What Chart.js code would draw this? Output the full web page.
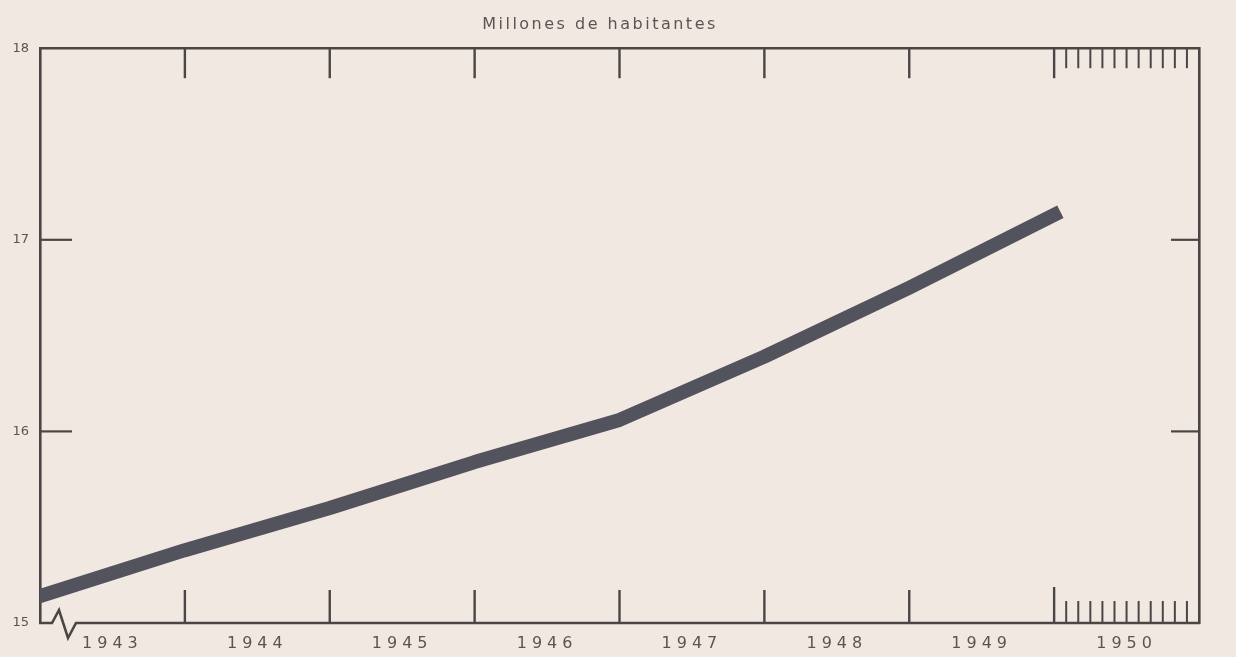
<!DOCTYPE html>
<html>
<head>
<meta charset="utf-8">
<script src="https://cdn.jsdelivr.net/npm/chart.js@4.4.1/dist/chart.umd.min.js"></script>
<style>
  html, body { margin: 0; padding: 0; background: #f1e8e1; }
  #wrap { width: 1236px; height: 657px; }
</style>
</head>
<body>
<div id="wrap"><canvas id="chart"></canvas></div>
<script>
// poblacion al 1 de enero, millones
const years = [1943, 1944, 1945, 1946, 1947, 1948, 1949, 1950]
const population = [15.14, 15.38, 15.60, 15.84, 16.06, 16.39, 16.75, 17.13]
const yearLabels = [1943, 1944, 1945, 1946, 1947, 1948, 1949, 1950]
const yTicks = [15, 16, 17, 18]
const monthsPerYear = 12

const INK = "#4a4646"
const PAPER = "#f1e8e1"
const TEXT = "#5a5555"

// wrap a draw function so it runs with letter spacing
function spaced(obj, fnName, px) {
    if (!obj || obj["_sp_" + fnName]) return
    const orig = obj[fnName]
    obj[fnName] = function (...args) {
        const ctx = this.ctx
        ctx.save()
        ctx.letterSpacing = px
        orig.apply(this, args)
        ctx.restore()
    }
    obj["_sp_" + fnName] = true
}

const insideTicks = {
    id: "insideTicks",
    beforeDraw(chart) {
        const ctx = chart.ctx
        ctx.save()
        ctx.fillStyle = PAPER
        ctx.fillRect(0, 0, chart.width, chart.height)
        ctx.restore()
        spaced(chart.scales.x, "drawLabels", "5px")
        spaced(chart.titleBlock, "draw", "2.5px")
    },
    afterDraw(chart) {
        const ctx = chart.ctx
        const x = chart.scales.x
        const y = chart.scales.y
        const area = chart.chartArea
        const seg = (x1, y1, x2, y2) => { ctx.beginPath(); ctx.moveTo(x1, y1); ctx.lineTo(x2, y2); ctx.stroke() }
        ctx.save()
        ctx.strokeStyle = INK
        ctx.lineCap = "butt"

        // year boundaries, top and bottom
        ctx.lineWidth = 2.4
        const lastYr = yearLabels[yearLabels.length - 1]
        yearLabels.slice(1).forEach((yr) => {
            const px = x.getPixelForValue(yr)
            seg(px, area.top, px, area.top + 30)
            seg(px, area.bottom, px, area.bottom - (yr === lastYr ? 36 : 33))
        })
        // months of the last year
        ctx.lineWidth = 2
        for (let m = 1; m < monthsPerYear; m++) {
            const px = x.getPixelForValue(lastYr + m / monthsPerYear)
            seg(px, area.top, px, area.top + 20)
            seg(px, area.bottom, px, area.bottom - 22)
        }
        // inner y ticks
        ctx.lineWidth = 2.2
        yTicks.slice(1, -1).forEach((v) => {
            const py = y.getPixelForValue(v)
            seg(area.left, py, area.left + 32, py)
            seg(area.right - 28, py, area.right, py)
        })
        // bottom line with the axis break
        ctx.lineWidth = 2.6
        ctx.lineJoin = "miter"
        const b = area.bottom
        const l = area.left
        ctx.beginPath()
        ctx.moveTo(l - 1, b)
        ctx.lineTo(l + 12, b)
        ctx.lineTo(l + 19, b - 13)
        ctx.lineTo(l + 28, b + 15)
        ctx.lineTo(l + 36, b)
        ctx.lineTo(area.right + 1, b)
        ctx.stroke()
        ctx.restore()
    }
}

const points = years.map((yr, i) => ({ x: yr, y: population[i] }))

new Chart(document.getElementById("chart"), {
    type: "line",
    data: {
        datasets: [{
            data: points,
            borderColor: "#53535e",
            borderWidth: 14,
            borderCapStyle: "square",
            borderJoinStyle: "round",
            pointRadius: 0,
            tension: 0,
            clip: 0
        }]
    },
    options: {
        responsive: true,
        maintainAspectRatio: false,
        animation: false,
        events: [],
        layout: { padding: { left: 0, right: 36, top: 0, bottom: 0 } },
        plugins: {
            legend: { display: false },
            tooltip: { enabled: false },
            title: {
                display: true,
                text: "Millones de habitantes",
                color: TEXT,
                font: { family: "DejaVu Sans", size: 16, weight: "normal" },
                padding: { top: 15, bottom: 2 }
            }
        },
        scales: {
            x: {
                type: "linear",
                position: "bottom",
                min: yearLabels[0],
                max: lastYear() + 1,
                afterBuildTicks: (s) => { s.ticks = yearLabels.map((yr) => ({ value: yr + 0.5 })) },
                afterFit: (s) => { s.height = 34 },
                grid: { display: false, drawTicks: false },
                border: { display: false },
                ticks: {
                    autoSkip: false,
                    maxRotation: 0,
                    padding: 11,
                    color: TEXT,
                    font: { family: "DejaVu Sans", size: 16 },
                    callback: (v) => String(Math.floor(v))
                }
            },
            x2: {
                type: "linear",
                position: "top",
                min: yearLabels[0],
                max: lastYear() + 1,
                afterFit: (s) => { s.height = 12 },
                grid: { display: false, drawTicks: false },
                border: { display: true, color: INK, width: 2.6 },
                ticks: { display: false }
            },
            y: {
                position: "left",
                min: yTicks[0],
                max: yTicks[yTicks.length - 1],
                afterBuildTicks: (s) => { s.ticks = yTicks.map((v) => ({ value: v })) },
                afterFit: (s) => { s.width = 40 },
                grid: { display: false, drawTicks: false },
                border: { display: true, color: INK, width: 2.6 },
                ticks: {
                    padding: 11,
                    color: TEXT,
                    font: { family: "DejaVu Sans", size: 13 }
                }
            },
            y2: {
                position: "right",
                min: yTicks[0],
                max: yTicks[yTicks.length - 1],
                afterBuildTicks: (s) => { s.ticks = yTicks.map((v) => ({ value: v })) },
                afterFit: (s) => { s.width = 1 },
                grid: { display: false, drawTicks: false },
                border: { display: true, color: INK, width: 2.6 },
                ticks: {
                    padding: 7,
                    color: TEXT,
                    font: { family: "DejaVu Sans", size: 11 }
                }
            }
        }
    },
    plugins: [insideTicks]
})

function lastYear() {
    return yearLabels[yearLabels.length - 1]
}
</script>
</body>
</html>
